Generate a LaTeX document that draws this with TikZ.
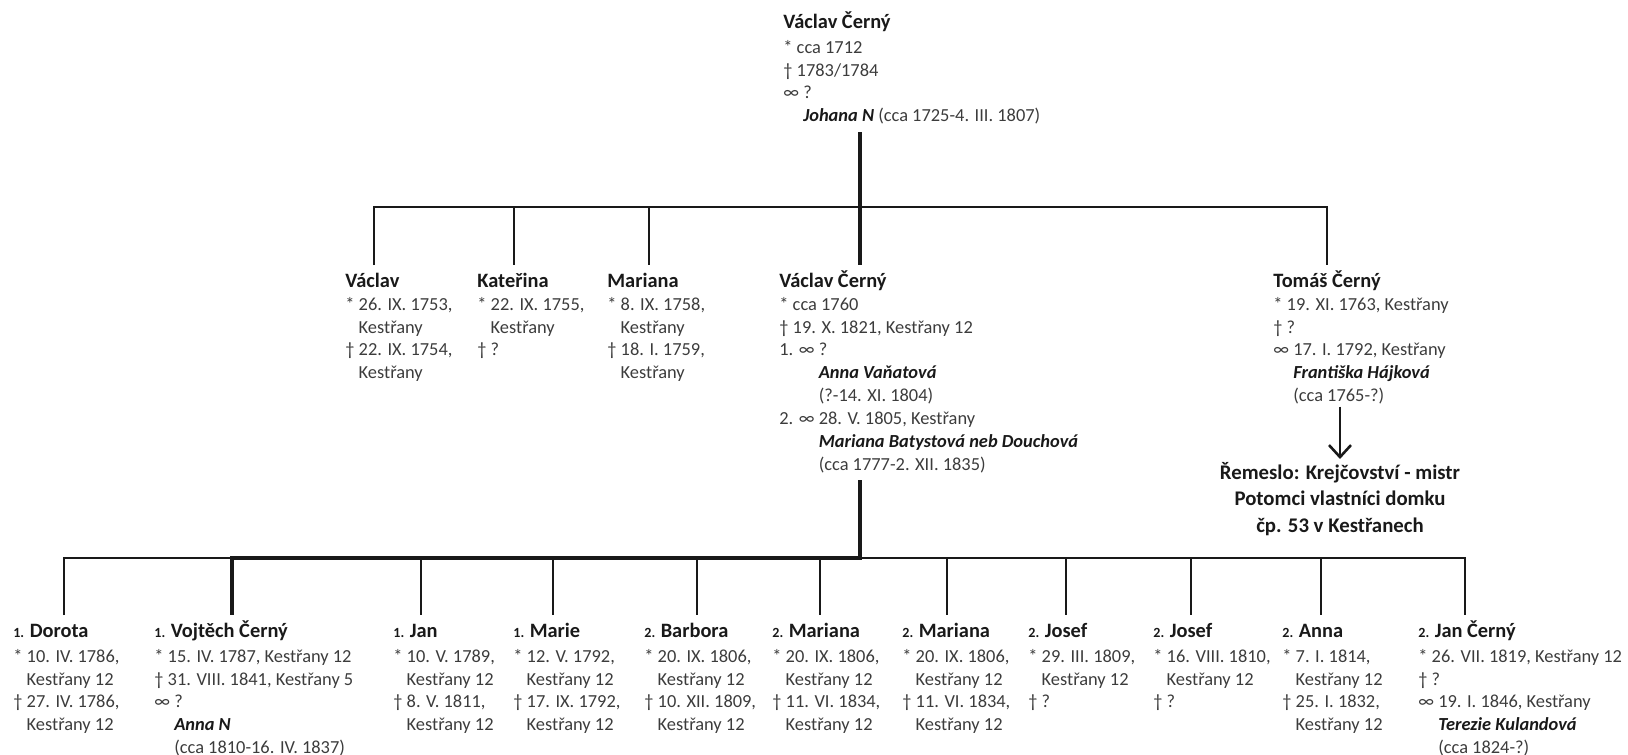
\documentclass[tikz,border=0pt]{standalone}
\usepackage{fontspec}
\setmainfont{Carlito}
\usetikzlibrary{arrows.meta}
\definecolor{txt}{RGB}{60,60,60}
\definecolor{nmc}{RGB}{25,25,25}
\definecolor{lnc}{RGB}{25,25,25}
\newcommand{\nm}[1]{{\fontsize{10.2}{11.43}\selectfont\bfseries\color{nmc}#1}}
\newcommand{\pre}[1]{{\fontsize{7}{11.43}\selectfont\bfseries\color{nmc}#1}}
\newcommand{\topstrut}{\rule{0pt}{10pt}}
\newcommand{\hind}{\hphantom{* }}
\newcommand{\mind}{\hphantom{∞ }}
\newcommand{\wind}{\hphantom{1. ∞ }}
\newcommand{\wife}[1]{{\bfseries\itshape\color{nmc}#1}}
\tikzset{
  person/.style={anchor=north west, inner sep=0pt, align=left,
    font=\fontsize{9.2}{11.43}\selectfont, text=txt},
  thinln/.style={draw=lnc, line width=1pt},
  thickln/.style={draw=lnc, line width=2.2pt, line join=miter},
  arrowln/.style={draw=lnc, line width=1.3pt, -{Straight Barb[length=6pt,width=11pt]}},
  craft/.style={anchor=north, inner sep=0pt, align=center,
    font=\fontsize{10.4}{13.25}\selectfont\bfseries, text=nmc}
}
\begin{document}
\begin{tikzpicture}[x=0.5pt,y=-0.5pt]
\useasboundingbox (0,0) rectangle (1628,755);

% top ancestor (first baseline at y = 28)
\node[person] (top) at (783,8) {\topstrut\nm{Václav Černý}\\[1pt] * cca 1712\\ † 1783/1784\\ ∞ ?\\ \mind\wife{Johana N} (cca 1725-4. III. 1807)};

% second generation (first baseline at y = 287)
\node[person] (v1) at (345,267) {\topstrut\nm{Václav}\\ * 26. IX. 1753,\\ \hind Kestřany\\ † 22. IX. 1754,\\ \hind Kestřany};
\node[person] (k) at (477,267) {\topstrut\nm{Kateřina}\\ * 22. IX. 1755,\\ \hind Kestřany\\ † ?};
\node[person] (m) at (607,267) {\topstrut\nm{Mariana}\\ * 8. IX. 1758,\\ \hind Kestřany\\ † 18. I. 1759,\\ \hind Kestřany};
\node[person] (vc) at (779,267) {\topstrut\nm{Václav Černý}\\ * cca 1760\\ † 19. X. 1821, Kestřany 12\\ 1. ∞ ?\\ \wind\wife{Anna Vaňatová}\\ \wind(?-14. XI. 1804)\\ 2. ∞ 28. V. 1805, Kestřany\\ \wind\wife{Mariana Batystová neb Douchová}\\ \wind(cca 1777-2. XII. 1835)};
\node[person] (t) at (1273,267) {\topstrut\nm{Tomáš Černý}\\ * 19. XI. 1763, Kestřany\\ † ?\\ ∞ 17. I. 1792, Kestřany\\ \mind\wife{Františka Hájková}\\ \mind(cca 1765-?)};

\node[craft] (rem) at (1340,459) {\topstrut Řemeslo: Krejčovství - mistr\\ Potomci vlastníci domku\\ čp. 53 v Kestřanech};

% third generation (first baseline at y = 637)
\node[person] (d) at (13,617) {\topstrut\pre{1.} \nm{Dorota}\\[1pt] * 10. IV. 1786,\\ \hind Kestřany 12\\ † 27. IV. 1786,\\ \hind Kestřany 12};
\node[person] (vo) at (154,617) {\topstrut\pre{1.} \nm{Vojtěch Černý}\\[1pt] * 15. IV. 1787, Kestřany 12\\ † 31. VIII. 1841, Kestřany 5\\ ∞ ?\\ \mind\wife{Anna N}\\ \mind(cca 1810-16. IV. 1837)};
\node[person] (j) at (393,617) {\topstrut\pre{1.} \nm{Jan}\\[1pt] * 10. V. 1789,\\ \hind Kestřany 12\\ † 8. V. 1811,\\ \hind Kestřany 12};
\node[person] (ma) at (513,617) {\topstrut\pre{1.} \nm{Marie}\\[1pt] * 12. V. 1792,\\ \hind Kestřany 12\\ † 17. IX. 1792,\\ \hind Kestřany 12};
\node[person] (b) at (644,617) {\topstrut\pre{2.} \nm{Barbora}\\[1pt] * 20. IX. 1806,\\ \hind Kestřany 12\\ † 10. XII. 1809,\\ \hind Kestřany 12};
\node[person] (m1) at (772,617) {\topstrut\pre{2.} \nm{Mariana}\\[1pt] * 20. IX. 1806,\\ \hind Kestřany 12\\ † 11. VI. 1834,\\ \hind Kestřany 12};
\node[person] (m2) at (902,617) {\topstrut\pre{2.} \nm{Mariana}\\[1pt] * 20. IX. 1806,\\ \hind Kestřany 12\\ † 11. VI. 1834,\\ \hind Kestřany 12};
\node[person] (j1) at (1028,617) {\topstrut\pre{2.} \nm{Josef}\\[1pt] * 29. III. 1809,\\ \hind Kestřany 12\\ † ?};
\node[person] (j2) at (1153,617) {\topstrut\pre{2.} \nm{Josef}\\[1pt] * 16. VIII. 1810,\\ \hind Kestřany 12\\ † ?};
\node[person] (a) at (1282,617) {\topstrut\pre{2.} \nm{Anna}\\[1pt] * 7. I. 1814,\\ \hind Kestřany 12\\ † 25. I. 1832,\\ \hind Kestřany 12};
\node[person] (jc) at (1418,617) {\topstrut\pre{2.} \nm{Jan Černý}\\[1pt] * 26. VII. 1819, Kestřany 12\\ † ?\\ ∞ 19. I. 1846, Kestřany\\ \mind\wife{Terezie Kulandová}\\ \mind(cca 1824-?)};

% connector coordinates
\coordinate (topstem) at (860,132);
\coordinate (bar1) at (860,207);
\coordinate (v1in) at (374,265);
\coordinate (kin) at (514,265);
\coordinate (min) at (649,265);
\coordinate (vcin) at (860,265);
\coordinate (tin) at (1327,265);
\coordinate (vcout) at (860,480);
\coordinate (bar2) at (860,558);
\coordinate (din) at (64,615);
\coordinate (voin) at (232,615);
\coordinate (jin) at (421,615);
\coordinate (main) at (553,615);
\coordinate (bin) at (697,615);
\coordinate (m1in) at (820,615);
\coordinate (m2in) at (947,615);
\coordinate (j1in) at (1066,615);
\coordinate (j2in) at (1191,615);
\coordinate (ain) at (1321,615);
\coordinate (jcin) at (1465,615);

% second generation lines
\draw[thinln] (v1in) |- (bar1) -| (tin);
\draw[thinln] (kin |- bar1) -- (kin);
\draw[thinln] (min |- bar1) -- (min);
\draw[thickln] (topstem) -- (vcin);

% third generation lines
\draw[thinln] (din) |- (bar2) -| (jcin);
\foreach \c in {jin,main,bin,m1in,m2in,j1in,j2in,ain}
  \draw[thinln] (\c |- bar2) -- (\c);
\draw[thickln] (vcout) -- (bar2) -| (voin);

% craft arrow
\draw[arrowln] ([yshift=-1pt]rem.north |- t.south) -- (rem.north);
\end{tikzpicture}
\end{document}
